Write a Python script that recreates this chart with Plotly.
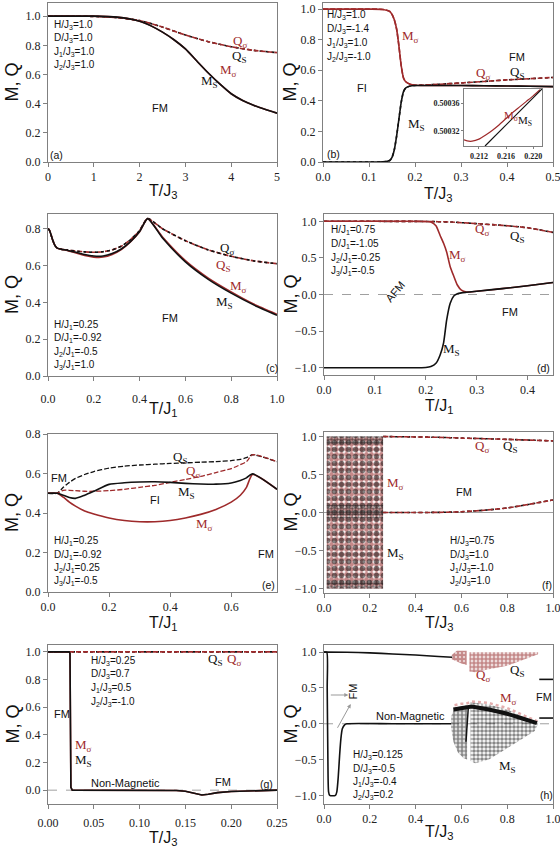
import plotly.graph_objects as go

# ---------------- data ----------------
# (a)
a_T = [0, 0.5, 1, 1.5, 2, 2.5, 3, 3.5, 4, 4.5, 5]
a_Q = [1.0, 1.0, 0.998, 0.99, 0.97, 0.925, 0.87, 0.825, 0.79, 0.765, 0.75]
a_TM = [0, 0.5, 1, 1.5, 2, 2.25, 2.5, 2.75, 3, 3.25, 3.5, 3.75, 4, 4.25, 4.5, 4.75, 5]
a_M = [1.0, 1.0, 1.0, 0.993, 0.965, 0.933, 0.89, 0.838, 0.775, 0.692, 0.61, 0.535, 0.468, 0.422, 0.388, 0.36, 0.335]

# (b)
b_T = [0, 0.05, 0.1, 0.13, 0.145, 0.15, 0.155, 0.16, 0.165, 0.17, 0.175, 0.18, 0.19, 0.2,
       0.25, 0.3, 0.35, 0.4, 0.45, 0.5]
b_Ms = [1, 1, 1, 0.998, 0.985, 0.965, 0.93, 0.87, 0.76, 0.63, 0.55, 0.525, 0.508, 0.502,
        0.5, 0.5, 0.499, 0.497, 0.495, 0.493]
b_MS = [0, 0, 0, 0.001, 0.01, 0.03, 0.08, 0.17, 0.28, 0.39, 0.46, 0.485, 0.497, 0.5,
        0.5, 0.5, 0.499, 0.497, 0.495, 0.493]
b_Qs = [1, 1, 1, 0.998, 0.985, 0.965, 0.93, 0.87, 0.76, 0.63, 0.55, 0.525, 0.508, 0.502,
        0.508, 0.517, 0.527, 0.537, 0.545, 0.553]
b_QS = [0, 0, 0, 0.001, 0.01, 0.03, 0.08, 0.17, 0.28, 0.39, 0.46, 0.485, 0.497, 0.5,
        0.508, 0.517, 0.527, 0.537, 0.545, 0.553]
# (b) inset
bi_T = [0.2098, 0.2105, 0.211, 0.212, 0.213, 0.214, 0.215, 0.216, 0.217, 0.218, 0.219, 0.220, 0.221]
bi_Ms = [0.500307, 0.500305, 0.500305, 0.500308, 0.500314, 0.500321, 0.500329, 0.500338,
         0.500347, 0.500355, 0.500363, 0.500371, 0.500380]
bi_TS = [0.2129, 0.2213]
bi_MS = [0.500298, 0.500381]

# (c)
c_T = [0, 0.005, 0.01, 0.02, 0.03, 0.04, 0.06, 0.08, 0.1, 0.13, 0.16, 0.2, 0.24, 0.28, 0.32,
       0.36, 0.4, 0.435, 0.5, 0.6, 0.7, 0.8, 0.9, 1.0]
c_Q = [0.8, 0.795, 0.78, 0.74, 0.71, 0.695, 0.688, 0.685, 0.682, 0.678, 0.674, 0.672, 0.675,
       0.685, 0.705, 0.74, 0.79, 0.855, 0.8, 0.735, 0.685, 0.65, 0.625, 0.61]
c_MS = [0.8, 0.795, 0.78, 0.74, 0.71, 0.695, 0.688, 0.684, 0.678, 0.67, 0.66, 0.652, 0.652,
        0.665, 0.69, 0.73, 0.785, 0.855, 0.75, 0.62, 0.525, 0.45, 0.385, 0.33]
c_Ms = [0.8, 0.795, 0.78, 0.74, 0.71, 0.695, 0.688, 0.683, 0.676, 0.665, 0.655, 0.646, 0.646,
        0.66, 0.687, 0.728, 0.783, 0.855, 0.755, 0.627, 0.532, 0.457, 0.39, 0.335]

# (d)
d_T = [0, 0.05, 0.1, 0.15, 0.2, 0.21, 0.22, 0.228, 0.235, 0.241, 0.248, 0.255, 0.262, 0.27,
       0.28, 0.3, 0.35, 0.4, 0.45]
d_Ms = [1, 1, 1, 1, 0.998, 0.99, 0.94, 0.81, 0.7, 0.58, 0.38, 0.25, 0.13, 0.06,
        0.035, 0.045, 0.08, 0.12, 0.165]
d_MS = [-1, -1, -1, -1, -0.998, -0.985, -0.94, -0.83, -0.66, -0.35, -0.12, -0.02, 0.01, 0.022,
        0.03, 0.045, 0.08, 0.12, 0.165]
d_TQ = [0, 0.1, 0.2, 0.25, 0.3, 0.35, 0.4, 0.45]
d_Q = [1.0, 1.0, 0.998, 0.99, 0.968, 0.945, 0.912, 0.848]

# (e)
e_T = [0, 0.03, 0.05, 0.07, 0.09, 0.12, 0.15, 0.2, 0.25, 0.3, 0.35, 0.4, 0.45, 0.5, 0.55,
       0.6, 0.63, 0.65, 0.67, 0.75]
e_QS = [0.5, 0.5, 0.53, 0.555, 0.575, 0.595, 0.61, 0.627, 0.637, 0.643, 0.647, 0.651, 0.654,
        0.657, 0.66, 0.665, 0.672, 0.68, 0.695, 0.66]
e_Qs = [0.5, 0.5, 0.515, 0.515, 0.513, 0.51, 0.51, 0.513, 0.52, 0.53, 0.54, 0.555, 0.57,
        0.585, 0.605, 0.625, 0.645, 0.66, 0.695, 0.66]
e_MS = [0.5, 0.5, 0.49, 0.478, 0.474, 0.49, 0.51, 0.545, 0.553, 0.557, 0.558, 0.555, 0.55,
        0.547, 0.546, 0.552, 0.565, 0.578, 0.598, 0.52]
e_Ms = [0.5, 0.5, 0.48, 0.455, 0.435, 0.41, 0.395, 0.375, 0.362, 0.356, 0.356, 0.362, 0.375,
        0.393, 0.418, 0.455, 0.49, 0.53, 0.595, 0.52]

# (f)
f_cloud_T = [0.012, 0.258, 0.258, 0.012, 0.012]
f_cloud_M = [-1.0, -1.0, 1.0, 1.0, -1.0]
f_top_M = [0.9, 0.9, 1.0, 1.0, 0.9]
f_mid_M = [-0.08, -0.08, 0.1, 0.1, -0.08]
f_bot_M = [-1.0, -1.0, -0.9, -0.9, -1.0]
f_T = [0.258, 0.4, 0.5, 0.6, 0.7, 0.8, 0.9, 1.0]
f_Q = [1.0, 0.995, 0.99, 0.98, 0.972, 0.963, 0.953, 0.943]
f_M = [0.0, 0.0, 0.002, 0.01, 0.03, 0.06, 0.11, 0.165]

# (g)
g_TQ = [0, 0.25]
g_Q = [1.0, 1.0]
g_T = [0, 0.023, 0.024, 0.0245, 0.025, 0.0265, 0.05, 0.1, 0.14, 0.15, 0.16, 0.168, 0.175,
       0.185, 0.2, 0.22, 0.25]
g_M = [1, 1, 0.99, 0.5, 0.02, 0.0, 0, 0, -0.002, -0.008, -0.025, -0.035, -0.03, -0.018,
       -0.01, -0.004, 0]

# (h)
h_TQ = [0, 0.1, 0.2, 0.3, 0.4, 0.5, 0.56]
h_Q = [1.0, 0.998, 0.99, 0.975, 0.96, 0.94, 0.93]
h_TM = [0, 0.012, 0.014, 0.017, 0.02, 0.025, 0.05, 0.056, 0.062, 0.068, 0.074, 0.08, 0.09,
        0.1, 0.3, 0.555]
h_M = [1, 1, 0.5, -0.5, -0.95, -1.0, -1.0, -0.95, -0.75, -0.45, -0.2, -0.07, -0.015, 0, 0, 0]
h_Tend = [0.94, 1.0]
h_Qend = [0.62, 0.62]
h_Mend = [0.08, 0.08]
h_Qcl1_T = [0.558, 0.58, 0.623, 0.623, 0.6, 0.575, 0.558]
h_Qcl1_V = [0.96, 1.02, 1.02, 0.82, 0.84, 0.88, 0.9]
h_Qcl2_T = [0.635, 0.935, 0.935, 0.86, 0.8, 0.72, 0.66, 0.635]
h_Qcl2_V = [1.0, 1.0, 0.97, 0.88, 0.81, 0.76, 0.72, 0.73]
h_Mcl1_T = [0.555, 0.57, 0.6, 0.625, 0.625, 0.61, 0.585, 0.565, 0.555]
h_Mcl1_V = [0.1, 0.22, 0.25, 0.26, -0.5, -0.48, -0.4, -0.25, -0.05]
h_Mcl2_T = [0.64, 0.72, 0.8, 0.87, 0.935, 0.92, 0.87, 0.8, 0.72, 0.66, 0.64]
h_Mcl2_V = [0.3, 0.27, 0.2, 0.1, 0.0, -0.1, -0.2, -0.33, -0.5, -0.55, -0.52]
h_band_T = [0.565, 0.6, 0.622, 0.645, 0.72, 0.8, 0.87, 0.93]
h_band_V = [0.2, 0.22, 0.22, 0.24, 0.2, 0.14, 0.07, 0.01]
h_pink_T = [0.57, 0.6, 0.62, 0.645, 0.72, 0.8, 0.87, 0.935]
h_pink_V = [0.26, 0.28, 0.28, 0.31, 0.29, 0.22, 0.12, 0.03]
h_diag_T = [0.63, 0.62]
h_diag_V = [0.22, -0.25]

# ---------------- layout helpers ----------------
RED = "#9e2a2b"
DRED = "#8a1414"
BLK = "#111111"
GRAY = "#808080"
SANS = "Liberation Sans"
SERIF = "Liberation Serif"
W, H = 560, 850

BOX = {
    1: (48, 277, 3, 162),
    2: (323, 553, 3, 162),
    3: (48, 277, 214, 376),
    4: (324, 553, 214, 375),
    5: (48, 277, 434, 592),
    6: (324, 553, 432, 593),
    7: (48, 277, 645, 804),
    8: (324, 553, 645, 804),
    9: (464, 542, 89, 146),
}

fig = go.Figure()


def ax(n):
    return ("x" if n == 1 else f"x{n}"), ("y" if n == 1 else f"y{n}")


def line(n, x, y, color, dash="solid", width=1.6, shape="spline"):
    xa, ya = ax(n)
    fig.add_trace(go.Scatter(x=x, y=y, mode="lines", xaxis=xa, yaxis=ya,
                             line=dict(color=color, width=width, dash=dash, shape=shape,
                                       smoothing=0.6),
                             showlegend=False, hoverinfo="skip"))


def cloud(n, x, y, color, size, solidity):
    xa, ya = ax(n)
    fig.add_trace(go.Scatter(x=x, y=y, mode="lines", xaxis=xa, yaxis=ya, fill="toself",
                             line=dict(width=0, color="rgba(0,0,0,0)"),
                             fillcolor="rgba(0,0,0,0)",
                             fillpattern=dict(shape=".", fgcolor=color,
                                              bgcolor="rgba(0,0,0,0)",
                                              size=size, solidity=solidity),
                             showlegend=False, hoverinfo="skip"))


DASH1 = "5px,2px"
DASH2 = "3px,3px"

# (a)
line(1, a_T, a_Q, BLK, DASH2)
line(1, a_T, a_Q, RED, DASH1)
line(1, a_TM, a_M, RED)
line(1, a_TM, a_M, BLK)
# (b)
line(2, b_T, b_QS, BLK, DASH2)
line(2, b_T, b_Qs, RED, DASH1)
line(2, b_T, b_Ms, RED)
line(2, b_T, b_MS, BLK)
line(9, bi_T, bi_Ms, RED, width=1.2)
line(9, bi_TS, bi_MS, BLK, width=1.2, shape="linear")
# (c)
line(3, c_T, c_Q, RED, DASH1)
line(3, c_T, c_Q, BLK, DASH2)
line(3, c_T, c_Ms, RED)
line(3, c_T, c_MS, BLK)
# (d)
line(4, d_TQ, d_Q, BLK, DASH2)
line(4, d_TQ, d_Q, RED, DASH1)
line(4, d_T, d_Ms, RED)
line(4, d_T, d_MS, BLK)
# (e)
line(5, e_T, e_QS, BLK, DASH1, width=1.3)
line(5, e_T, e_Qs, RED, DASH1, width=1.3)
line(5, e_T, e_Ms, RED)
line(5, e_T, e_MS, BLK)
# (f)
cloud(6, f_cloud_T, f_cloud_M, DRED, 5, 0.75)
cloud(6, f_cloud_T, f_cloud_M, BLK, 7, 0.5)
cloud(6, f_cloud_T, f_top_M, BLK, 3, 0.6)
cloud(6, f_cloud_T, f_mid_M, BLK, 3, 0.55)
cloud(6, f_cloud_T, f_bot_M, BLK, 3, 0.6)
line(6, f_T, f_Q, BLK, DASH2)
line(6, f_T, f_Q, RED, DASH1)
line(6, f_T, f_M, BLK, DASH2)
line(6, f_T, f_M, RED, DASH1)
# (g)
line(7, g_TQ, g_Q, BLK, DASH2, shape="linear")
line(7, g_TQ, g_Q, RED, DASH1, shape="linear")
line(7, g_T, g_M, RED, shape="linear")
line(7, g_T, g_M, BLK, shape="linear")
# (h)
cloud(8, h_Qcl1_T, h_Qcl1_V, DRED, 4, 0.8)
cloud(8, h_Qcl2_T, h_Qcl2_V, DRED, 4, 0.75)
cloud(8, h_Mcl1_T, h_Mcl1_V, BLK, 4, 0.7)
cloud(8, h_Mcl2_T, h_Mcl2_V, BLK, 4, 0.65)
line(8, h_pink_T, h_pink_V, "rgba(215,140,140,0.7)", "dot", width=2.5, shape="linear")
line(8, h_band_T, h_band_V, BLK, width=4, shape="linear")
line(8, h_diag_T, h_diag_V, BLK, width=1.5, shape="linear")
line(8, h_TQ, h_Q, BLK)
line(8, h_TM, h_M, BLK)
line(8, h_Tend, h_Qend, BLK, shape="linear")
line(8, h_Tend, h_Mend, BLK, shape="linear")

# ---------------- axes ----------------
AX = {
    1: dict(xr=[0, 5], xt=[0, 1, 2, 3, 4, 5], xf="d", yr=[0, 1.09], yt=[0, 0.2, 0.4, 0.6, 0.8, 1.0], yf=".1f"),
    2: dict(xr=[0, 0.5], xt=[0, 0.1, 0.2, 0.3, 0.4, 0.5], xf=".1f", yr=[0, 1.04], yt=[0, 0.2, 0.4, 0.6, 0.8, 1.0], yf=".1f"),
    3: dict(xr=[0, 1.0], xt=[0, 0.2, 0.4, 0.6, 0.8, 1.0], xf=".1f", yr=[0, 0.88], yt=[0, 0.2, 0.4, 0.6, 0.8], yf=".1f", sx=8),
    4: dict(xr=[0, 0.45], xt=[0, 0.1, 0.2, 0.3, 0.4], xf=".1f", yr=[-1.1, 1.1], yt=[-1, -0.5, 0, 0.5, 1.0], yf=".1f"),
    5: dict(xr=[0, 0.75], xt=[0, 0.2, 0.4, 0.6], xf=".1f", yr=[0, 0.8], yt=[0, 0.2, 0.4, 0.6, 0.8], yf=".1f"),
    6: dict(xr=[0, 1.0], xt=[0, 0.2, 0.4, 0.6, 0.8, 1.0], xf=".1f", yr=[-1.06, 1.06], yt=[-1, -0.5, 0, 0.5, 1.0], yf=".1f"),
    7: dict(xr=[0, 0.25], xt=[0, 0.05, 0.1, 0.15, 0.2, 0.25], xf=".2f", yr=[-0.1, 1.05], yt=[0, 0.2, 0.4, 0.6, 0.8, 1.0], yf=".1f", sx=4),
    8: dict(xr=[0, 1.0], xt=[0, 0.2, 0.4, 0.6, 0.8, 1.0], xf=".1f", yr=[-1.12, 1.1], yt=[-1, -0.5, 0, 0.5, 1.0], yf=".1f"),
    9: dict(xr=[0.2098, 0.2213], xt=[0.212, 0.216, 0.220], xf=".3f", yr=[0.500298, 0.500381], yt=[0.50032, 0.50036], yf=".5f"),
}

layout = dict(width=W, height=H, margin=dict(l=0, r=0, t=0, b=0, autoexpand=False),
              paper_bgcolor="white", plot_bgcolor="white", showlegend=False)
for n, (l, r, t, b) in BOX.items():
    a = AX[n]
    xk = "xaxis" if n == 1 else f"xaxis{n}"
    yk = "yaxis" if n == 1 else f"yaxis{n}"
    xa, ya = ax(n)
    inset = n == 9
    if inset:
        tf = dict(family=SERIF, size=8, color="#222", weight="bold")
    else:
        tf = dict(family=SERIF, size=12, color="#222")
    common = dict(showline=True, linecolor=GRAY, linewidth=1, mirror=True, showgrid=False,
                  zeroline=False, ticks="outside", tickcolor=GRAY, ticklen=2 if inset else 4,
                  tickwidth=1, tickfont=tf, fixedrange=True, automargin=False,
                  ticklabeloverflow="allow")
    layout[xk] = dict(domain=[l / W, r / W], range=a["xr"], tickvals=a["xt"], tickformat=a["xf"],
                      anchor=ya, ticklabelstandoff=a.get("sx", 0), **common)
    layout[yk] = dict(domain=[1 - b / H, 1 - t / H], range=a["yr"], tickvals=a["yt"], tickformat=a["yf"],
                      anchor=xa, **common)

fig.update_layout(**layout)

# zero reference lines
for n, dsh in [(4, "dash"), (6, "solid"), (7, "dash"), (8, "dash")]:
    xa, ya = ax(n)
    fig.add_shape(type="line", xref=f"{xa} domain", yref=ya, x0=0, x1=1, y0=0, y1=0,
                  line=dict(color="#a0a0a0", width=1, dash=dsh), layer="below")

# ---------------- text ----------------
ann = []


def T(x, y, text, color=BLK, family=SANS, size=10.5, xanchor="center", angle=0):
    ann.append(dict(x=x / W, y=1 - y / H, xref="paper", yref="paper", text=text, showarrow=False,
                    font=dict(family=family, size=size, color=color), xanchor=xanchor,
                    yanchor="middle", textangle=angle))


def params(x, ys, lines):
    for yy, s in zip(ys, lines):
        T(x, yy, s, size=10, xanchor="left")


def cl(x, y, text, color):
    T(x, y, text, color=color, family=SERIF, size=13)


Qs, QS, Ms, MS = "Q<sub>σ</sub>", "Q<sub>S</sub>", "M<sub>σ</sub>", "M<sub>S</sub>"

params(52, [25, 38.5, 52, 65.5], ["H/J<sub>3</sub>=1.0", "D/J<sub>3</sub>=1.0", "J<sub>1</sub>/J<sub>3</sub>=1.0", "J<sub>2</sub>/J<sub>3</sub>=1.0"])
cl(240, 41.7, Qs, RED); cl(239, 56, QS, BLK); cl(228, 70, Ms, RED); cl(209, 81, MS, BLK)
T(160, 108.3, "FM", size=11); T(56, 155, "(a)", size=10.5)

params(325, [15, 29.5, 43.5, 57.5], ["H/J<sub>3</sub>=1.0", "D/J<sub>3</sub>=-1.4", "J<sub>1</sub>/J<sub>3</sub>=1.0", "J<sub>2</sub>/J<sub>3</sub>=-1.0"])
cl(410, 36.7, Ms, RED); T(516.7, 57, "FM", size=11); cl(483.3, 74, Qs, RED); cl(517.3, 72, QS, BLK)
T(361.7, 88.3, "FI", size=11); cl(416, 124, MS, BLK); T(333, 154, "(b)", size=10.5)
T(511.7, 115.7, Ms, color=RED, family=SERIF, size=11); T(525, 121, MS, color=BLK, family=SERIF, size=11)

params(52, [325, 338.5, 352, 365], ["H/J<sub>1</sub>=0.25", "D/J<sub>1</sub>=-0.92", "J<sub>2</sub>/J<sub>1</sub>=-0.5", "J<sub>3</sub>/J<sub>1</sub>=1.0"])
cl(226.7, 248.3, Qs, BLK); cl(222.7, 265, QS, RED); cl(238.3, 286.7, Ms, RED); cl(224, 302.3, MS, BLK)
T(170, 318.3, "FM", size=11); T(271.5, 367.7, "(c)", size=10.5)

params(329, [230, 243.5, 257.5, 270.5], ["H/J<sub>1</sub>=0.75", "D/J<sub>1</sub>=-1.05", "J<sub>2</sub>/J<sub>1</sub>=-0.25", "J<sub>3</sub>/J<sub>1</sub>=-0.5"])
cl(481.7, 230, Qs, RED); cl(517.3, 236.7, QS, BLK); cl(457.3, 255, Ms, RED)
T(395, 292.3, "AFM", size=11, angle=-50); T(510, 311.7, "FM", size=11); cl(451.7, 349, MS, BLK)
T(543.3, 368.3, "(d)", size=10.5)

params(52, [541, 554.5, 568, 581], ["H/J<sub>1</sub>=0.25", "D/J<sub>1</sub>=-0.92", "J<sub>2</sub>/J<sub>1</sub>=0.25", "J<sub>3</sub>/J<sub>1</sub>=-0.5"])
cl(180, 457.3, QS, BLK); cl(192.7, 471.7, Qs, RED); cl(186, 492.7, MS, BLK); T(155, 500, "FI", size=11)
cl(204, 524.3, Ms, RED); T(59.3, 478.3, "FM", size=11); T(265.7, 554.3, "FM", size=11)
T(268.3, 585.3, "(e)", size=10.5)

params(448, [541, 554.5, 568, 581], ["H/J<sub>3</sub>=0.75", "D/J<sub>3</sub>=1.0", "J<sub>1</sub>/J<sub>3</sub>=-1.0", "J<sub>2</sub>/J<sub>3</sub>=1.0"])
cl(481.7, 446.7, Qs, RED); cl(510, 446.7, QS, BLK); cl(395, 483.3, Ms, RED); T(464, 491.7, "FM", size=11)
cl(395, 553.3, MS, BLK); T(546.7, 585.3, "(f)", size=10.5)

params(89, [660.7, 674.3, 688, 701.5], ["H/J<sub>3</sub>=0.25", "D/J<sub>3</sub>=0.7", "J<sub>1</sub>/J<sub>3</sub>=0.5", "J<sub>2</sub>/J<sub>3</sub>=-1.0"])
cl(215, 659, QS, BLK); cl(234, 659, Qs, RED); T(61.7, 714, "FM", size=11); cl(83.3, 745, Ms, RED)
cl(83.3, 760, MS, BLK); T(125, 782.7, "Non-Magnetic", size=11); T(222.7, 781.7, "FM", size=11)
T(266, 784, "(g)", size=10.5)

params(351, [755, 768.5, 782, 795], ["H/J<sub>3</sub>=0.125", "D/J<sub>3</sub>=-0.5", "J<sub>1</sub>/J<sub>3</sub>=-0.4", "J<sub>2</sub>/J<sub>3</sub>=0.2"])
T(352.7, 691.7, "FM", size=11, angle=-90); T(410, 716, "Non-Magnetic", size=11)
cl(483.3, 675.7, Qs, RED); cl(517.3, 670.7, QS, BLK); cl(508.3, 698.3, Ms, RED)
T(544, 696.7, "FM", size=11); cl(507.3, 766.7, MS, BLK); T(546.7, 795, "(h)", size=10.5)
for hx, hy, tx, ty in [(348.3, 695, 329.3, 695), (350.7, 704, 336.7, 729.3)]:
    ann.append(dict(x=hx / W, y=1 - hy / H, xref="paper", yref="paper", text="", showarrow=True,
                    ax=tx - hx, ay=ty - hy, arrowhead=2, arrowsize=0.8, arrowwidth=1,
                    arrowcolor="#999999"))

# axis titles
for n, (l, r, t, b) in BOX.items():
    if n == 9:
        continue
    xt = 12 if l < 100 else 290
    T(xt, (t + b) / 2, "M, Q", size=18, angle=-90)
XT = {1: ("T/J<sub>3</sub>", 192), 2: ("T/J<sub>3</sub>", 194), 3: ("T/J<sub>1</sub>", 409),
      4: ("T/J<sub>1</sub>", 407), 5: ("T/J<sub>1</sub>", 623), 6: ("T/J<sub>3</sub>", 623),
      7: ("T/J<sub>3</sub>", 838), 8: ("T/J<sub>3</sub>", 832)}
for n, (txt, yy) in XT.items():
    l, r, t, b = BOX[n]
    T((l + r) / 2, yy, txt, size=16)

fig.update_layout(annotations=ann)
fig.write_html("out.html", config={"displayModeBar": False},
               post_script="document.body.style.margin='0px';")
